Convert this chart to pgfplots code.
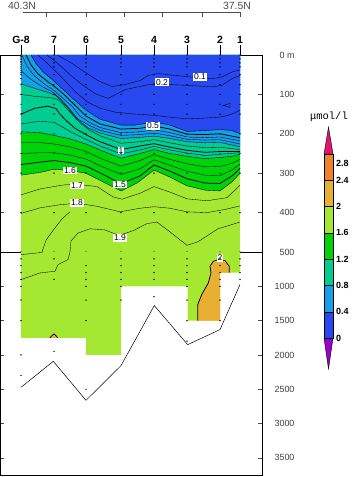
\documentclass[border=0pt]{standalone}
\usepackage{fontspec}
\setmainfont{Liberation Sans}
\newfontfamily\monofont{Liberation Mono}
\usepackage{pgfplots}
\pgfplotsset{compat=1.18}
\definecolor{cpur}{RGB}{150,0,200}
\definecolor{cblu}{RGB}{40,72,240}
\definecolor{clbl}{RGB}{20,160,230}
\definecolor{ctea}{RGB}{0,205,145}
\definecolor{cgrn}{RGB}{0,210,10}
\definecolor{cyg}{RGB}{165,232,50}
\definecolor{cor1}{RGB}{232,175,50}
\definecolor{cor2}{RGB}{240,130,45}
\definecolor{cmag}{RGB}{222,20,110}
\tikzset{lab/.style={fill=white, inner sep=0.8pt, font=\fontsize{8.5}{8.5}\selectfont},
  cbl/.style={anchor=west, inner sep=0pt, xshift=3bp, font=\bfseries\fontsize{9}{9}\selectfont}}
\begin{document}
\begin{tikzpicture}
\path[use as bounding box] (0bp,0bp) rectangle (352bp,477bp);
\pgfplotsset{
  main/.style={scale only axis, width=262bp, xmin=0, xmax=262, y dir=reverse,
    anchor=south west, xtick=\empty, tick align=inside, major tick length=4bp,
    ytick pos=both, yticklabel pos=right,
    /pgf/number format/assume math mode=true,
    /pgf/number format/set thousands separator={},
    axis line style={black, line width=0.7bp},
    ytick style={black!70, line width=0.6bp},
    yticklabel style={font=\fontsize{9}{9}\selectfont, text=black!75, anchor=east, xshift=36bp}},
  cl/.style={black, line width=0.35bp},
  clt/.style={black, line width=0.75bp},
  dots/.style={only marks, mark=*, mark size=0.45bp, black}
}
% ---------- upper panel 0-500 m ----------
\begin{axis}[main, at={(0bp,225bp)}, height=197bp, ymin=0, ymax=500,
  ytick={0,100,200,300,400}, yticklabels={0 m,100,200,300,400}]
\addplot[fill=cyg, draw=none] coordinates {(21,0)(240,0)(240,500)(21,500)} --cycle;
\addplot[fill=cgrn, draw=none] coordinates {(21,0)(21,305)(40,298)(54,290)(70,293)(86,300)(100,318)(121,345)(137,325)(154,292)(170,310)(187,332)(205,343)(220,345)(232,322)(240,300)(240,0)} --cycle;
\addplot[fill=ctea, draw=none] coordinates {(21,0)(21,195)(40,197)(54,204)(70,213)(86,226)(100,241)(121,262)(140,250)(154,240)(170,250)(187,257)(205,263)(220,260)(232,257)(240,252)(240,0)} --cycle;
\addplot[fill=clbl, draw=none] coordinates {(21,0)(21,73)(35,85)(48,95)(56,103)(62,118)(68,135)(76,160)(88,185)(100,198)(121,212)(140,209)(154,206)(170,212)(187,220)(205,223)(220,222)(240,233)(240,0)} --cycle;
\addplot[fill=cblu, draw=none] coordinates {(31,0)(36,22)(44,45)(52,62)(62,85)(73,111)(86,140)(100,163)(121,178)(135,178)(154,170)(170,178)(187,194)(205,192)(220,189)(232,192)(240,200)(240,0)} --cycle;
% contour lines
\addplot[cl] coordinates {(57,0)(70,18)(84,42)(98,65)(112,80)(125,75)(141,64)(148,52)(158,47)(175,52)(192,56)(212,60)(222,56)(232,43)(240,38)};
\addplot[cl] coordinates {(223,128)(230,123)(230,133)(223,128)};
\addplot[cl] coordinates {(47,0)(58,22)(70,50)(82,75)(95,98)(108,110)(125,88)(145,77)(162,70)(170,75)(188,77)(212,81)(222,77)(232,60)(240,52)};
\addplot[cl] coordinates {(38,0)(47,20)(56,42)(66,68)(76,95)(88,120)(100,135)(115,145)(135,150)(154,153)(170,158)(188,162)(205,160)(222,157)(232,150)(240,140)};
\addplot[cl] coordinates {(31,0)(36,22)(44,45)(52,62)(62,85)(73,111)(86,140)(100,163)(121,178)(135,178)(154,170)(170,178)(187,194)(205,192)(220,189)(232,192)(240,200)};
\addplot[clt] coordinates {(26,0)(31,25)(38,48)(48,68)(57,85)(66,105)(76,130)(86,155)(100,175)(121,188)(140,186)(154,180)(170,188)(187,201)(205,202)(220,200)(240,210)};
\addplot[cl] coordinates {(22,0)(27,28)(34,52)(45,75)(54,90)(63,110)(72,130)(80,155)(90,172)(100,184)(121,197)(140,195)(154,190)(170,197)(187,208)(205,210)(220,208)(240,218)};
\addplot[cl] coordinates {(21,40)(30,60)(42,80)(52,93)(60,110)(68,132)(78,163)(92,182)(100,191)(121,204)(140,202)(154,198)(170,205)(187,214)(205,216)(220,215)(240,226)};
\addplot[cl] coordinates {(21,73)(35,85)(48,95)(56,103)(62,118)(68,135)(76,160)(88,185)(100,198)(121,212)(140,209)(154,206)(170,212)(187,220)(205,223)(220,222)(240,233)};
\addplot[cl] coordinates {(21,100)(35,105)(50,108)(58,113)(64,128)(70,145)(80,172)(90,192)(100,205)(121,224)(140,220)(154,215)(170,223)(187,231)(205,235)(220,234)(240,240)};
\addplot[clt] coordinates {(21,150)(35,135)(48,130)(56,136)(60,150)(66,166)(75,186)(88,205)(100,220)(121,240)(140,231)(154,225)(170,234)(187,242)(205,247)(220,245)(240,245)};
\addplot[cl] coordinates {(21,175)(40,168)(54,171)(62,182)(72,197)(86,214)(100,231)(121,251)(140,241)(154,232)(170,241)(187,249)(205,255)(220,252)(240,248)};
\addplot[cl] coordinates {(21,195)(40,197)(54,204)(70,213)(86,226)(100,241)(121,262)(140,250)(154,240)(170,250)(187,257)(205,263)(220,260)(232,257)(240,252)};
\addplot[cl] coordinates {(21,222)(40,222)(54,226)(70,233)(86,245)(100,262)(121,282)(140,268)(154,253)(170,265)(187,276)(205,284)(220,283)(232,275)(240,265)};
\addplot[cl] coordinates {(21,250)(40,248)(54,248)(70,254)(86,264)(100,281)(121,303)(140,289)(154,266)(170,280)(187,295)(205,305)(220,306)(232,292)(240,277)};
\addplot[clt] coordinates {(21,278)(40,272)(54,268)(70,273)(86,282)(100,299)(121,327)(140,307)(154,279)(170,295)(187,314)(205,325)(220,326)(232,307)(240,288)};
\addplot[cl] coordinates {(21,305)(40,298)(54,290)(70,293)(86,300)(100,318)(121,345)(137,325)(154,292)(170,310)(187,332)(205,343)(220,345)(232,322)(240,300)};
\addplot[cl] coordinates {(21,355)(40,340)(63,330)(77,328)(97,334)(113,360)(122,366)(140,351)(154,334)(170,348)(187,365)(207,370)(227,362)(237,338)(240,330)};
\addplot[cl] coordinates {(21,402)(40,388)(60,380)(77,376)(97,384)(120,398)(140,389)(154,385)(170,389)(187,398)(207,400)(225,392)(240,383)};
\addplot[cl] coordinates {(42,500)(46,470)(54,442)(62,416)(70,398)};
\addplot[cl] coordinates {(70,500)(71,472)(78,452)(90,441)(105,444)(119,458)(133,446)(147,428)(157,424)(170,449)(187,483)(198,474)(218,441)(240,424)};
% sample points
\addplot[dots] coordinates {(21,0)(21,4)(21,8)(21,12)(21,16)(21,20)(21,25)(21,30)(21,35)(21,40)(21,45)(21,50)(21,60)(21,75)(21,100)(21,125)(21,150)(21,200)(21,250)(21,300)(21,400)(21,500)};
\addplot[dots] coordinates {(54,0)(54,10)(54,20)(54,30)(54,50)(54,75)(54,100)(54,125)(54,150)(54,200)(54,250)(54,300)(54,400)(54,500)
 (86,0)(86,10)(86,20)(86,30)(86,50)(86,75)(86,100)(86,125)(86,150)(86,200)(86,250)(86,300)(86,400)(86,500)
 (121,0)(121,10)(121,20)(121,30)(121,50)(121,75)(121,100)(121,125)(121,150)(121,200)(121,250)(121,300)(121,400)(121,500)
 (154,0)(154,10)(154,20)(154,30)(154,50)(154,75)(154,100)(154,125)(154,150)(154,200)(154,250)(154,300)(154,400)(154,500)
 (187,0)(187,10)(187,20)(187,30)(187,50)(187,75)(187,100)(187,125)(187,150)(187,200)(187,250)(187,300)(187,400)(187,500)
 (220,0)(220,10)(220,20)(220,30)(220,50)(220,75)(220,100)(220,125)(220,150)(220,200)(220,250)(220,300)(220,400)(220,500)
 (240,0)(240,10)(240,20)(240,30)(240,50)(240,75)(240,100)(240,125)(240,150)(240,200)(240,250)(240,300)(240,400)(240,500)};
\node[lab] at (axis cs:200,56) {0.1};
\node[lab] at (axis cs:162,69) {0.2};
\node[lab] at (axis cs:153,180) {0.5};
\node[lab] at (axis cs:121,242) {1};
\node[lab] at (axis cs:120,329) {1.5};
\node[lab] at (axis cs:70,293) {1.6};
\node[lab] at (axis cs:77,331) {1.7};
\node[lab] at (axis cs:77,375) {1.8};
\node[lab] at (axis cs:120,464) {1.9};
\end{axis}
% ---------- station ticks ----------
\begin{axis}[scale only axis, at={(0bp,225bp)}, anchor=south west, width=262bp, height=197bp,
  xmin=0, xmax=262, ymin=0, ymax=1, hide y axis, axis x line*=top,
  x axis line style={draw=none},
  xtick={21,54,86,121,154,187,220,240}, xticklabels={G-8,7,6,5,4,3,2,1},
  tick align=outside, major tick length=10bp, xtick style={black, line width=0.7bp},
  xticklabel style={font=\bfseries\fontsize{10.5}{10.5}\selectfont, inner sep=1pt}]
\addplot[draw=none] coordinates {(21,0.5)};
\end{axis}
% ---------- lower panel 500-3750 m ----------
\begin{axis}[main, at={(0bp,2bp)}, height=223bp, ymin=500, ymax=3750,
  ytick={500,1000,1500,2000,2500,3000,3500}]
\addplot[fill=cyg, draw=none] coordinates {(21,500)(240,500)(240,800)(220,800)(220,1500)(187.5,1500)(187.5,1000)(121,1000)(121,2000)(86,2000)(86,1750)(21,1750)} --cycle;
\addplot[fill=cor1, draw=none] coordinates {(197.7,1500)(197.7,1267)(201.7,1121)(208.3,951)(211,805)(210,708)(213.3,636)(218.3,611)(225,625)(229.3,708)(229.3,800)(220,800)(220,1500)} --cycle;
\addplot[fill=cor1, draw=none] coordinates {(50,1750)(52.5,1712)(54,1694)(56,1720)(57.5,1750)} --cycle;
\addplot[cl] coordinates {(21,538)(38,513)(43,500)};
\addplot[cl] coordinates {(70,500)(68,611)(58,684)(55,781)(40,805)(21,903)};
\addplot[clt] coordinates {(197.7,1500)(197.7,1267)(201.7,1121)(208.3,951)(211,805)(210,708)(213.3,636)(218.3,611)(225,625)(229.3,708)(229.3,800)};
\addplot[clt] coordinates {(50,1750)(52.5,1712)(54,1694)(56,1720)(57.5,1750)};
\addplot[black, line width=0.5bp] coordinates {(21,2472)(53.3,2093)(86,2662)(121,2156)(154.3,1281)(187.7,1850)(220,1631)(240,975)};
\addplot[dots] coordinates {(21,600)(21,700)(21,800)(21,900)(21,1000)(21,1200)(21,1500)(21,2000)(21,2300)
 (54,600)(54,900)(54,1950)
 (86,700)(86,800)(86,900)(86,1000)(86,1200)(86,1500)(86,2500)
 (121,600)(121,700)(121,800)(121,900)(121,1000)(121,1200)
 (154,600)(154,700)(154,800)(154,900)(154,1150)
 (187,600)(187,700)(187,800)(187,900)(187,1000)(187,1200)(187,1500)(187,1800)
 (220,600)(220,700)(220,800)(220,900)(220,1000)(220,1200)(220,1500)
 (240,600)(240,700)(240,800)(240,900)};
\node[lab] at (axis cs:220,586) {2};
\end{axis}
% ---------- latitude axis ----------
\begin{axis}[scale only axis, at={(23bp,465bp)}, anchor=north west, width=217bp, height=10bp,
  xmin=23, xmax=240, ymin=0, ymax=1, hide y axis, axis x line*=top, clip=false,
  x axis line style={black!70, line width=0.7bp},
  xtick={46,86,124,162,202,240}, xticklabels={}, tick align=inside, major tick length=5bp,
  xtick style={black!70, line width=0.7bp}]
\addplot[draw=none] coordinates {(100,0.5)};
\node[anchor=base, text=black!70, font=\fontsize{10.5}{10.5}\selectfont] at (axis cs:22,1.25) {40.3N};
\node[anchor=base, text=black!70, font=\fontsize{10.5}{10.5}\selectfont] at (axis cs:237,1.25) {37.5N};
\end{axis}
% ---------- colour bar ----------
\begin{axis}[scale only axis, at={(324bp,108bp)}, anchor=south west, width=9bp, height=242bp,
  xmin=0, xmax=1, ymin=-0.47, ymax=3.21, hide axis, clip=false]
\addplot[fill=cpur, draw=black, line width=0.4bp] coordinates {(0,0)(1,0)(0.5,-0.47)} --cycle;
\addplot[fill=cblu, draw=black, line width=0.4bp] coordinates {(0,0)(1,0)(1,0.4)(0,0.4)} --cycle;
\addplot[fill=clbl, draw=black, line width=0.4bp] coordinates {(0,0.4)(1,0.4)(1,0.8)(0,0.8)} --cycle;
\addplot[fill=ctea, draw=black, line width=0.4bp] coordinates {(0,0.8)(1,0.8)(1,1.2)(0,1.2)} --cycle;
\addplot[fill=cgrn, draw=black, line width=0.4bp] coordinates {(0,1.2)(1,1.2)(1,1.6)(0,1.6)} --cycle;
\addplot[fill=cyg, draw=black, line width=0.4bp] coordinates {(0,1.6)(1,1.6)(1,2.0)(0,2.0)} --cycle;
\addplot[fill=cor1, draw=black, line width=0.4bp] coordinates {(0,2.0)(1,2.0)(1,2.4)(0,2.4)} --cycle;
\addplot[fill=cor2, draw=black, line width=0.4bp] coordinates {(0,2.4)(1,2.4)(1,2.8)(0,2.8)} --cycle;
\addplot[fill=cmag, draw=black, line width=0.4bp] coordinates {(0,2.8)(1,2.8)(0.5,3.21)} --cycle;
\node[cbl] at (axis cs:1,0) {0};
\node[cbl] at (axis cs:1,0.4) {0.4};
\node[cbl] at (axis cs:1,0.8) {0.8};
\node[cbl] at (axis cs:1,1.2) {1.2};
\node[cbl] at (axis cs:1,1.6) {1.6};
\node[cbl] at (axis cs:1,2.0) {2};
\node[cbl] at (axis cs:1,2.4) {2.4};
\node[cbl] at (axis cs:1,2.65) {2.8};
\node[font=\monofont\fontsize{10.5}{10.5}\selectfont, inner sep=0pt] at (axis cs:0.55,3.36) {μmol/l};
\end{axis}
\end{tikzpicture}
\end{document}
